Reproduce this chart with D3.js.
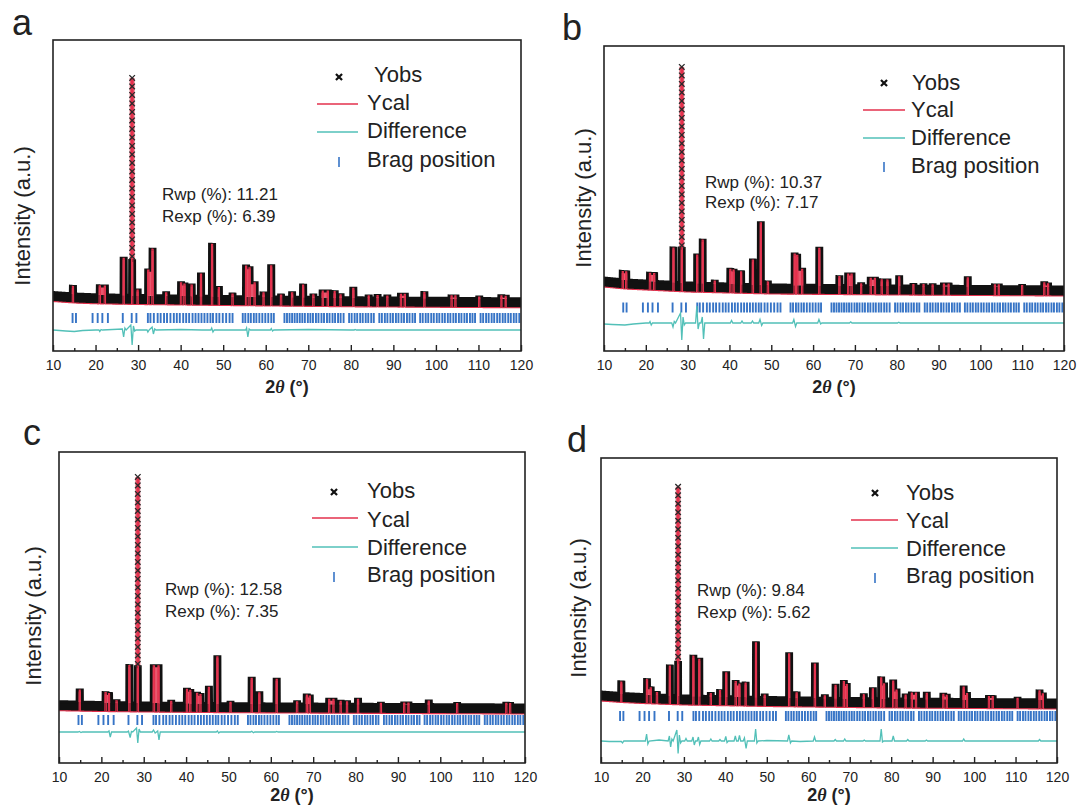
<!DOCTYPE html>
<html><head><meta charset="utf-8">
<script src="https://cdn.jsdelivr.net/npm/d3@7"></script>
<style>
body{margin:0;background:#fff}
svg{display:block}
text{font-family:"Liberation Sans",Arial,sans-serif;fill:#222}
</style>
</head><body>
<svg id="chart" width="1078" height="805"></svg>
<script>
// ---------------- data ----------------
const xTickValues = [10,20,30,40,50,60,70,80,90,100,110,120];
const xMinorTicks = [15,25,35,45,55,65,75,85,95,105,115];
const panelLetters = ["a","b","c","d"];
const rwpValues = ["11.21","10.37","12.58","9.84"];
const rexpValues = ["6.39","7.17","7.35","5.62"];
const legendLabels = ["Yobs","Ycal","Difference","Brag position"];

// Bragg reflection positions (2θ, degrees)
const braggPositions = [14.6,15.4,19.3,20.5,21.6,22.9,26.4,28.5,29.6,32.3,32.9,33.7,34.6,35.3,36.1,36.8,37.6,38.4,39.1,39.8,40.6,41.3,42.0,42.8,43.5,44.2,44.9,45.6,46.3,47.0,47.6,48.4,49.1,49.9,50.7,51.5,52.2,54.6,55.2,55.9,56.5,57.2,57.8,58.5,59.2,59.9,60.6,61.3,61.9,64.4,65.0,65.6,66.2,66.8,67.4,68.0,68.6,69.2,69.9,70.5,71.1,71.8,72.4,73.1,73.7,74.4,75.0,75.7,76.3,77.0,77.6,78.3,79.6,80.2,80.9,81.5,82.2,82.8,83.5,84.1,84.8,85.4,86.7,87.3,88.0,88.6,89.3,89.9,90.6,91.2,91.9,92.5,93.2,93.8,94.5,95.1,96.3,96.9,97.6,98.2,98.9,99.5,100.2,100.8,101.5,102.1,102.8,103.4,104.1,104.7,105.4,106.0,106.7,107.3,108.0,108.6,109.2,110.5,111.1,111.8,112.4,113.1,113.7,114.4,115.0,115.7,116.3,117.0,117.6,118.3,118.9,119.6];

// background level [2θ, counts]
const backgroundA = [[10,385],[15,370],[20,362],[30,355],[50,345],[80,332],[120,322]];
const backgroundB = [[10,530],[15,510],[20,500],[30,480],[50,460],[80,450],[120,440]];
const backgroundC = [[10,413],[20,405],[30,400],[50,393],[80,387],[120,380]];
const backgroundD = [[10,510],[15,495],[20,485],[30,470],[50,455],[80,440],[120,430]];

// reflections [2θ, net intensity above background]
const peaksA = [[14.7,75],[21.0,90],[22.2,90],[26.6,370],[28.6,2175],[29.9,55],[32.4,255],[33.4,465],[36.6,30],[40.1,133],[40.9,120],[42.6,112],[44.8,222],[47.4,520],[49.0,90],[52.2,25],[55.4,307],[56.2,290],[57.4,140],[59.5,40],[61.3,312],[63.6,20],[66.2,44],[68.8,122],[71.2,25],[73.4,65],[74.6,65],[76.2,60],[77.6,30],[80.6,95],[84.2,20],[86.3,25],[88.6,20],[91.8,39],[92.7,39],[97.3,56],[103.7,25],[104.6,25],[110.2,15],[115.4,30],[116.4,25]];
const peaksB = [[14.5,83],[15.3,83],[21.0,79],[22.0,79],[26.6,343],[28.6,2158],[32.3,282],[33.6,432],[36.5,25],[40.2,147],[41.0,140],[42.8,125],[45.6,245],[47.5,620],[49.2,30],[55.6,312],[56.2,300],[57.4,160],[61.5,371],[66.3,89],[68.4,116],[69.2,116],[71.5,20],[73.8,75],[74.8,75],[76.4,60],[77.8,60],[80.6,93],[84.0,15],[86.4,15],[88.6,15],[91.3,22],[92.4,22],[97.0,87],[103.5,17],[104.4,17],[110.0,12],[115.3,42],[116.2,30]];
const peaksC = [[14.9,121],[21.0,99],[21.8,90],[23.6,20],[26.6,372],[28.6,2260],[32.4,374],[33.5,374],[36.5,20],[40.2,141],[41.0,130],[42.6,101],[43.4,90],[45.4,162],[47.4,469],[50.5,15],[55.5,255],[57.3,111],[61.4,246],[66.2,23],[68.5,90],[69.2,80],[73.8,49],[74.8,49],[76.5,30],[78.0,25],[80.6,50],[86.0,12],[91.5,15],[92.5,15],[97.3,36],[104.0,12],[115.6,16],[116.5,14]];
const peaksD = [[14.9,115],[21.1,150],[22.0,70],[23.5,25],[26.6,295],[28.6,2090],[32.3,400],[33.7,370],[36.5,30],[38.7,60],[40.2,240],[42.5,155],[43.4,130],[44.9,140],[47.4,545],[49.5,25],[55.4,440],[57.2,50],[61.6,340],[64.0,25],[66.6,130],[68.6,170],[69.3,140],[73.4,40],[75.6,100],[77.6,210],[78.3,150],[80.5,180],[81.3,90],[83.5,40],[85.0,60],[86.0,60],[88.6,60],[92.6,50],[93.4,40],[97.5,125],[98.3,60],[103.6,30],[104.5,30],[110.5,15],[115.8,90],[116.6,60]];

// difference curve Yobs - Ycal [2θ, counts]
const differenceA = [[10,0],[13,-10],[15,-15],[17,-5],[20,0],[20.8,0],[21,-15],[21.3,5],[21.6,0],[26.3,10],[26.6,-70],[26.9,20],[27.2,0],[28.3,50],[28.6,-150],[28.9,40],[29.2,-10],[29.5,0],[32.1,0],[32.3,-20],[32.6,0],[33.3,30],[33.6,-40],[33.9,10],[34.2,0],[40,5],[45,0],[47.1,0],[47.3,20],[47.6,-20],[47.9,0],[55.3,0],[55.5,20],[55.8,-70],[56.1,10],[56.4,0],[61.1,0],[61.3,15],[61.6,-10],[61.9,0],[70,5],[80,0],[80.8,0],[81,5],[81.3,0],[90,0],[120,0]];
const differenceB = [[10,-10],[12,-15],[15,-20],[17,-10],[20,0],[20.8,0],[21,15],[21.3,-20],[21.6,0],[26.2,0],[26.5,-40],[26.8,15],[27.1,0],[28.3,100],[28.6,-170],[28.9,60],[29.2,-20],[29.5,0],[31.9,0],[32.2,170],[32.5,-60],[32.8,0],[33.2,0],[33.5,60],[33.8,-160],[34.1,0],[40.2,0],[40.5,25],[40.8,0],[42.7,0],[43,20],[43.3,0],[45.2,0],[45.5,20],[45.8,0],[47.0,0],[47.3,35],[47.7,-25],[48.0,0],[55.1,0],[55.4,35],[55.8,-35],[56.1,0],[61.1,0],[61.4,35],[61.8,-10],[62.1,0],[68.7,0],[69,12],[69.3,0],[80.2,0],[80.5,8],[80.8,0],[120,0]];
const differenceC = [[10,0],[14.5,0],[14.8,5],[15.2,-5],[15.5,0],[21.5,0],[21.8,10],[22.1,-50],[22.4,0],[26.1,0],[26.4,10],[26.8,-55],[27.1,5],[27.4,0],[28.3,40],[28.6,-110],[28.9,30],[29.2,0],[32.0,0],[32.3,20],[32.7,-10],[33.0,0],[33.3,10],[33.6,-80],[33.9,0],[47.1,0],[47.4,10],[47.7,-10],[48,0],[55.2,0],[55.5,8],[55.9,-8],[56.2,0],[61.1,0],[61.4,5],[61.7,0],[120,0]];
const differenceD = [[10,0],[12,-5],[14.9,-5],[15.2,-20],[15.5,0],[20.7,0],[21.0,70],[21.3,-30],[21.6,0],[24,10],[26.2,0],[26.5,50],[26.8,-60],[27.1,20],[27.4,0],[28.3,110],[28.6,-125],[28.9,60],[29.2,-20],[29.5,0],[30.2,0],[30.5,25],[30.8,0],[31.9,0],[32.2,40],[32.5,-40],[32.8,0],[33.2,0],[33.5,40],[33.8,-35],[34.1,0],[36.2,0],[36.5,20],[36.8,0],[38.4,0],[38.7,15],[39.0,0],[39.8,0],[40.1,45],[40.4,-15],[40.7,0],[42.1,0],[42.4,50],[42.7,0],[43.1,0],[43.4,55],[43.7,0],[44.3,0],[44.6,30],[45.0,-75],[45.3,0],[47.0,0],[47.3,120],[47.6,-20],[47.9,0],[50,5],[55.0,0],[55.3,60],[55.7,-20],[56.0,0],[58,-5],[61.2,0],[61.5,40],[61.8,0],[66.2,0],[66.5,15],[66.8,0],[68.5,0],[68.8,20],[69.1,0],[73.2,0],[73.5,10],[73.8,0],[77.3,0],[77.6,120],[77.9,-10],[78.2,0],[80.2,0],[80.5,50],[80.8,0],[83.7,0],[84,15],[84.3,0],[88.2,0],[88.5,10],[88.8,0],[97.2,0],[97.5,20],[97.8,0],[115.5,0],[115.8,15],[116.1,0],[120,0]];

// ---------------- layout / style ----------------
const COL = {obs:"#111", cal:"#e3304c", calFill:"#e8586e", diff:"#52c0b8", bragg:"#3674c6", frame:"#222"};
const HW = 0.6;       // half width of an observed reflection block (deg)
const HWC = 0.15;     // half width of the calculated reflection line (deg)
const BAND = 90;      // thickness of the observed noise band (counts)
const CAP = 0.16;     // black outline cap for the dominant reflection

const panels = [
 {peaks:peaksA, bg:backgroundA, diff:differenceA, l:53, r:521, t:40, b:351, diffV:10, braggV:130,
  letter:[12,35], ylab:[30,216], xlabY:393, stat:[162,200,22],
  leg:{mx:339, tx0:374, tx:367, lx:[317,358], ly:[77,104,132,162], by:[82,110,138,167]}},
 {peaks:peaksB, bg:backgroundB, diff:differenceB, l:604, r:1064, t:46, b:351, diffV:80, braggV:235,
  letter:[562,40], ylab:[591,198], xlabY:393, stat:[705,188,20],
  leg:{mx:884, tx0:912, tx:911, lx:[863,905], ly:[83,110,138,167], by:[90,117,145,173]}},
 {peaks:peaksC, bg:backgroundC, diff:differenceC, l:59, r:525, t:452, b:763, diffV:110, braggV:230,
  letter:[23,445], ylab:[41,616], xlabY:801, stat:[165,595,22],
  leg:{mx:334, tx0:367, tx:367, lx:[312,358], ly:[492,518,547,577], by:[498,527,555,582]}},
 {peaks:peaksD, bg:backgroundD, diff:differenceD, l:601, r:1057, t:458, b:763, diffV:20, braggV:270,
  letter:[567,452], ylab:[586,608], xlabY:801, stat:[697,596,22],
  leg:{mx:875, tx0:906, tx:906, lx:[851,898], ly:[493,520,548,578], by:[500,528,556,583]}}
];

const svg = d3.select("#chart");

panels.forEach((p, i) => {
  const g = svg.append("g");
  const x = d3.scaleLinear().domain([10,120]).range([p.l, p.r]);
  const y = d3.scaleLinear().domain([-200, 10*(p.b-p.t) - 200]).range([p.b, p.t]);
  const bgS = d3.scaleLinear().domain(p.bg.map(d=>d[0])).range(p.bg.map(d=>d[1]));
  const maxH = d3.max(p.peaks, d=>d[1]);

  // profiles drawn from the reflection table
  const grid = d3.range(10, 120.0001, 0.025);
  const prof = grid.map(t => {
    let hFill = 0, hObs = 0, hCal = 0;
    p.peaks.forEach(([c,h]) => {
      const dd = Math.abs(t-c);
      if (dd <= HW) { hFill = Math.max(hFill,h); hObs = Math.max(hObs, h > 0.5*maxH ? CAP*maxH : h); }
      if (dd <= HWC) hCal = Math.max(hCal, h);
    });
    const bu = bgS(t);
    return {t, bu, bl: bu-BAND, fill: bu+hFill, obs: bu+hObs, cal: hCal>0 ? bu+hCal : bu-BAND};
  });

  const clipId = "clip"+i;
  svg.append("clipPath").attr("id", clipId).append("rect")
     .attr("x", p.l).attr("y", p.t).attr("width", p.r-p.l).attr("height", p.b-p.t);
  const plot = g.append("g").attr("clip-path", `url(#${clipId})`);

  // Bragg positions
  plot.append("g").selectAll("line").data(braggPositions).join("line")
    .attr("x1", d=>x(d)).attr("x2", d=>x(d))
    .attr("y1", y(p.braggV-50)).attr("y2", y(p.braggV+50))
    .attr("stroke", COL.bragg).attr("stroke-width", 1.9);

  // difference
  plot.append("path").datum(p.diff)
    .attr("d", d3.line().x(d=>x(d[0])).y(d=>y(d[1]+p.diffV)))
    .attr("fill","none").attr("stroke", COL.diff).attr("stroke-width", 1.3);

  // observed noise band
  plot.append("path").datum(prof)
    .attr("d", d3.area().x(d=>x(d.t)).y0(d=>y(d.bl)).y1(d=>y(d.bu)))
    .attr("fill", COL.obs);

  // calculated intensity fill inside reflections
  plot.append("path").datum(prof)
    .attr("d", d3.area().x(d=>x(d.t)).y0(d=>y(d.bu)).y1(d=>y(d.fill)))
    .attr("fill", COL.calFill);

  // observed profile outline
  plot.append("path").datum(prof)
    .attr("d", d3.line().x(d=>x(d.t)).y(d=>y(d.obs)))
    .attr("fill","none").attr("stroke", COL.obs).attr("stroke-width", 3).attr("stroke-linejoin","miter");

  // calculated profile line
  plot.append("path").datum(prof)
    .attr("d", d3.line().x(d=>x(d.t)).y(d=>y(d.cal)))
    .attr("fill","none").attr("stroke", COL.cal).attr("stroke-width", 1.1);

  // observed markers along dominant reflection
  const tall = p.peaks.filter(d => d[1] > 0.5*maxH);
  const marks = [];
  tall.forEach(([c,h]) => {
    const bu = bgS(c);
    for (let v = bu+h; v > bu + CAP*maxH; v -= 85) marks.push([c, v]);
  });
  plot.append("g").selectAll("path").data(marks).join("path")
    .attr("transform", d=>`translate(${x(d[0])},${y(d[1])})`)
    .attr("d", d3.symbol(d3.symbolX, 22))
    .attr("fill","none").attr("stroke","#2a2a2a").attr("stroke-width", 1.3);

  // frame
  g.append("rect").attr("x", p.l).attr("y", p.t).attr("width", p.r-p.l).attr("height", p.b-p.t)
    .attr("fill","none").attr("stroke", COL.frame).attr("stroke-width", 1.6);

  // x axis (inward ticks)
  const ax = g.append("g").attr("transform", `translate(0,${p.b})`)
    .call(d3.axisBottom(x).tickValues(xTickValues).tickSizeInner(-6).tickSizeOuter(0).tickPadding(9).tickFormat(d3.format("d")));
  ax.select(".domain").remove();
  ax.selectAll("line").attr("stroke", COL.frame).attr("stroke-width", 1.4);
  ax.selectAll("text").attr("font-size", 14).attr("fill","#333")
    .attr("font-family", '"Liberation Sans",Arial,sans-serif');
  const axm = g.append("g").attr("transform", `translate(0,${p.b})`)
    .call(d3.axisBottom(x).tickValues(xMinorTicks).tickSizeInner(-3).tickSizeOuter(0).tickFormat(""));
  axm.select(".domain").remove();
  axm.selectAll("line").attr("stroke", COL.frame).attr("stroke-width", 1.4);

  // x label 2θ (°)
  const xl = g.append("text").attr("x", (p.l+p.r)/2).attr("y", p.xlabY)
    .attr("text-anchor","middle").attr("font-size", 18).attr("font-weight","bold");
  xl.append("tspan").text("2");
  xl.append("tspan").attr("font-family",'"Liberation Serif","Times New Roman",serif').attr("font-style","italic").text("θ");
  xl.append("tspan").text(" (°)");

  // y label
  g.append("text").attr("transform", `translate(${p.ylab[0]},${p.ylab[1]}) rotate(-90)`)
    .attr("text-anchor","middle").attr("font-size", 22).attr("fill","#333").text("Intensity (a.u.)");

  // panel letter
  g.append("text").attr("x", p.letter[0]).attr("y", p.letter[1]).attr("font-size", 36).text(panelLetters[i]);

  // statistics
  g.append("text").attr("x", p.stat[0]).attr("y", p.stat[1]).attr("font-size", 17).text(`Rwp (%): ${rwpValues[i]}`);
  g.append("text").attr("x", p.stat[0]).attr("y", p.stat[1]+p.stat[2]).attr("font-size", 17).text(`Rexp (%): ${rexpValues[i]}`);

  // legend
  const L = p.leg;
  g.append("path").attr("transform", `translate(${L.mx},${L.ly[0]})`)
    .attr("d", d3.symbol(d3.symbolX, 26)).attr("fill","none").attr("stroke","#111").attr("stroke-width", 2.2);
  g.append("line").attr("x1", L.lx[0]).attr("x2", L.lx[1]).attr("y1", L.ly[1]).attr("y2", L.ly[1])
    .attr("stroke", COL.cal).attr("stroke-width", 1.4);
  g.append("line").attr("x1", L.lx[0]).attr("x2", L.lx[1]).attr("y1", L.ly[2]).attr("y2", L.ly[2])
    .attr("stroke", COL.diff).attr("stroke-width", 1.4);
  g.append("line").attr("x1", L.mx).attr("x2", L.mx).attr("y1", L.ly[3]-5).attr("y2", L.ly[3]+5)
    .attr("stroke", COL.bragg).attr("stroke-width", 1.6);
  legendLabels.forEach((lab, k) => {
    g.append("text").attr("x", k===0 ? L.tx0 : L.tx).attr("y", L.by[k]).attr("font-size", 22).text(lab);
  });
});
</script>
</body></html>
